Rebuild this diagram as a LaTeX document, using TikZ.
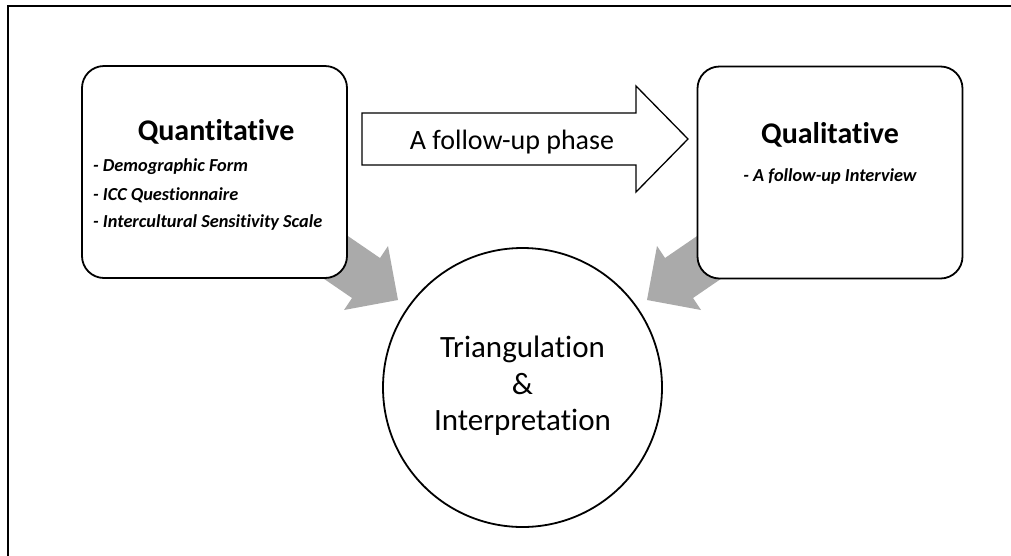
\documentclass[tikz,border=0pt]{standalone}
\usepackage{fontspec}
\setmainfont{Carlito}[RawFeature={-liga}]
\usetikzlibrary{calc}
\definecolor{arrgray}{RGB}{170,170,170}
\tikzset{
  box/.style={draw=black, line width=1.8pt, rounded corners=22pt, fill=white, minimum width=265pt, minimum height=212pt, inner sep=0pt},
  ttl/.style={font=\fontsize{30}{34}\selectfont\bfseries, inner sep=0pt},
  item/.style={font=\fontsize{18.3}{21}\selectfont\bfseries\itshape, inner sep=0pt, anchor=west},
  graybar/.style={fill=arrgray, draw=none},
  frameline/.style={line width=2.6pt, black}
}
\begin{document}
\begin{tikzpicture}[x=1pt,y=-1pt]
\useasboundingbox (0,0) rectangle (1011,555);
% frame
\draw[frameline] (8,560) -- (8,6) -- (1015,6);
% gray arrows (behind boxes)
\coordinate (l1) at (260,235);
\coordinate (l2) at (352,298);
\coordinate (l3) at (344,310);
\coordinate (lt) at (398,300);
\coordinate (l5) at (388,246);
\coordinate (l6) at (380,258);
\coordinate (l7) at (288,195);
\fill[graybar] (l1) -- (l2) -- (l3) -- (lt) -- (l5) -- (l6) -- (l7) -- cycle;
\coordinate (r1) at (785,235);
\coordinate (r2) at (693,298);
\coordinate (r3) at (701,310);
\coordinate (rt) at (647,300);
\coordinate (r5) at (657,246);
\coordinate (r6) at (665,258);
\coordinate (r7) at (757,195);
\fill[graybar] (r1) -- (r2) -- (r3) -- (rt) -- (r5) -- (r6) -- (r7) -- cycle;
% boxes
\node[box] (quant) at (214.5,172) {};
\node[box] (qual) at (830,172.5) {};
\node[ttl] (qt) at (216,132) {Quantitative};
\node[item] (q1) at (93,167) {- Demographic Form};
\node[item] (q2) at (93,195) {- ICC Questionnaire};
\node[item] (q3) at (93,223) {- Intercultural Sensitivity Scale};
\node[ttl] (lt2) at (830,135) {Qualitative};
\node[item, anchor=center] (l1t) at (830,177) {- A follow-up Interview};
% block arrow
\coordinate (a1) at (362,113);
\coordinate (a2) at (636,113);
\coordinate (a3) at (636,86);
\coordinate (a4) at (688,139);
\coordinate (a5) at (636,192);
\coordinate (a6) at (636,165);
\coordinate (a7) at (362,165);
\draw[line width=1.3pt, fill=white, line join=miter] (a1) -- (a2) -- (a3) -- (a4) -- (a5) -- (a6) -- (a7) -- cycle;
\node[font=\fontsize{28}{32}\selectfont, inner sep=0pt] (phase) at (512,142) {A follow-up phase};
% circle
\node[draw=black, line width=1.8pt, circle, minimum size=279pt, fill=none, inner sep=0pt] (tri) at (522.5,387.5) {};
\node[font=\fontsize{31}{36.5}\selectfont, align=center, inner sep=0pt] (tritxt) at (522.5,386) {Triangulation\\\&\\Interpretation};
\end{tikzpicture}
\end{document}
